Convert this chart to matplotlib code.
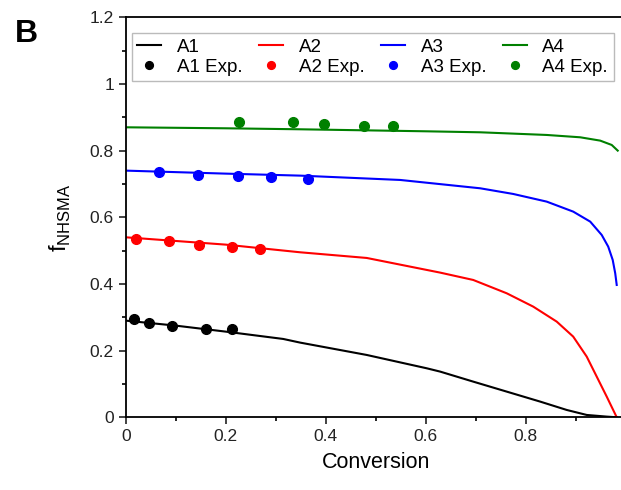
import matplotlib.pyplot as plt
from matplotlib.ticker import MultipleLocator

plt.rcParams['font.family'] = ['Liberation Sans', 'DejaVu Sans']
plt.rcParams['mathtext.fontset'] = 'custom'
plt.rcParams['mathtext.rm'] = 'Liberation Sans'

# model curves (conversion, f_NHSMA)
a1_x = [0.0, 0.1, 0.2, 0.315, 0.349, 0.482, 0.602, 0.629, 0.695, 0.762, 0.829, 0.882, 0.922, 0.962, 0.982]
a1_y = [0.290, 0.275, 0.257, 0.235, 0.224, 0.187, 0.147, 0.137, 0.107, 0.077, 0.047, 0.022, 0.007, 0.002, 0.0]

a2_x = [0.0, 0.2, 0.349, 0.482, 0.629, 0.695, 0.762, 0.815, 0.862, 0.895, 0.922, 0.942, 0.962, 0.982]
a2_y = [0.540, 0.518, 0.495, 0.478, 0.434, 0.412, 0.372, 0.332, 0.287, 0.242, 0.182, 0.122, 0.062, 0.0]

a3_x = [0.0, 0.2, 0.349, 0.549, 0.709, 0.775, 0.842, 0.895, 0.929, 0.952, 0.965, 0.974, 0.979, 0.982]
a3_y = [0.740, 0.731, 0.725, 0.712, 0.687, 0.670, 0.647, 0.617, 0.587, 0.547, 0.512, 0.472, 0.432, 0.397]

a4_x = [0.0, 0.2, 0.349, 0.6, 0.709, 0.842, 0.909, 0.949, 0.972, 0.984]
a4_y = [0.870, 0.867, 0.864, 0.858, 0.855, 0.847, 0.840, 0.830, 0.817, 0.800]

# experimental points
e1_x = [0.017, 0.047, 0.093, 0.161, 0.213]
e1_y = [0.294, 0.284, 0.274, 0.266, 0.264]
e2_x = [0.021, 0.087, 0.147, 0.212, 0.269]
e2_y = [0.535, 0.528, 0.518, 0.510, 0.505]
e3_x = [0.067, 0.145, 0.225, 0.291, 0.365]
e3_y = [0.735, 0.726, 0.723, 0.720, 0.714]
e4_x = [0.227, 0.335, 0.397, 0.477, 0.534]
e4_y = [0.885, 0.886, 0.879, 0.875, 0.875]

names = ['A1', 'A2', 'A3', 'A4']
colors = ['black', 'red', 'blue', 'green']
xtick_labels = ['0', '0.2', '0.4', '0.6', '0.8', '1']
ytick_labels = ['0', '0.2', '0.4', '0.6', '0.8', '1', '1.2']

fig = plt.figure(figsize=(6.21, 4.9), dpi=100)
ax = fig.add_axes([0.2024, 0.1484, 0.8052, 0.8163])

curves = [(a1_x, a1_y), (a2_x, a2_y), (a3_x, a3_y), (a4_x, a4_y)]
points = [(e1_x, e1_y), (e2_x, e2_y), (e3_x, e3_y), (e4_x, e4_y)]
handles = []
for name, c, (cx, cy), (px, py) in zip(names, colors, curves, points):
    l, = ax.plot(cx, cy, color=c, lw=1.5, label=name)
    m, = ax.plot(px, py, 'o', color=c, ms=7, label=name + ' Exp.')
    handles += [l, m]

ax.set_xlim(0, 1)
ax.set_ylim(0, 1.2)
ax.set_xticks([0, 0.2, 0.4, 0.6, 0.8, 1.0])
ax.set_xticklabels(xtick_labels)
ax.set_yticks([0, 0.2, 0.4, 0.6, 0.8, 1.0, 1.2])
ax.set_yticklabels(ytick_labels)
ax.xaxis.set_minor_locator(MultipleLocator(0.1))
ax.yaxis.set_minor_locator(MultipleLocator(0.1))
ax.tick_params(which='major', direction='out', length=5, width=1.2, labelsize=12.5, colors='#222222')
ax.tick_params(which='minor', direction='out', length=3, width=1.2)
for s in ax.spines.values():
    s.set_linewidth(1.3)

ax.set_xlabel('Conversion', fontsize=15.5, labelpad=6)
ax.set_ylabel(r'f$_{\mathregular{NHSMA}}$', fontsize=17, labelpad=12)

leg = ax.legend(handles=handles, ncol=4, loc='upper left', bbox_to_anchor=(0.012, 0.961),
                borderaxespad=0, fontsize=13.5, frameon=True, fancybox=False,
                edgecolor='#aaaaaa', handlelength=1.25, columnspacing=0.9,
                handletextpad=0.85, borderpad=0.3, labelspacing=0.15, markerscale=0.8)
leg.get_frame().set_linewidth(1.0)

fig.text(0.024, 0.915, 'B', fontsize=23, fontweight='bold')

fig.savefig('out.png', dpi=100)
